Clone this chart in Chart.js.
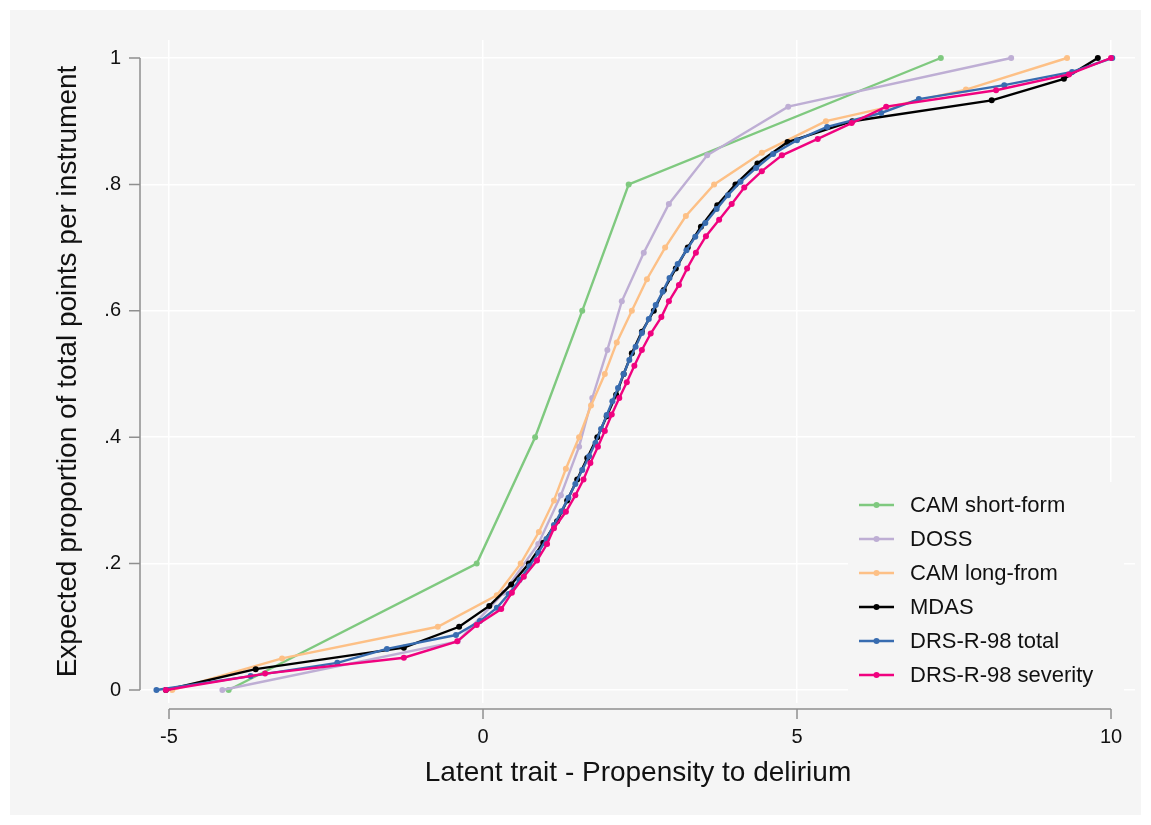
<!DOCTYPE html>
<html><head><meta charset="utf-8">
<script src="https://cdn.jsdelivr.net/npm/chart.js@4.4.1/dist/chart.umd.min.js"></script>
<style>html,body{margin:0;padding:0;background:#fff;} canvas{display:block;}</style>
</head><body>
<canvas id="c" width="1151" height="825"></canvas>
<script>
// ---- data ----
const seriesNames = ['CAM short-form', 'DOSS', 'CAM long-from', 'MDAS', 'DRS-R-98 total', 'DRS-R-98 severity'];

const camShortX = [-4.05, -0.1, 0.83, 1.58, 2.32, 7.29];
const camShortY = [0, 0.2, 0.4, 0.6, 0.8, 1];

const dossX = [-4.15, -0.4, 0.33, 0.88, 1.24, 1.53, 1.74, 1.98, 2.21, 2.56, 2.96, 3.57, 4.86, 8.41];
const dossY = [0, 0.077, 0.154, 0.231, 0.308, 0.385, 0.462, 0.538, 0.615, 0.692, 0.769, 0.846, 0.923, 1];

const camLongX = [-4.95, -3.2, -0.72, 0.22, 0.6, 0.89, 1.13, 1.32, 1.53, 1.72, 1.94, 2.13, 2.37, 2.61, 2.9, 3.23, 3.68, 4.44, 5.46, 7.69, 9.3];
const camLongY = [0, 0.05, 0.1, 0.15, 0.2, 0.25, 0.3, 0.35, 0.4, 0.45, 0.5, 0.55, 0.6, 0.65, 0.7, 0.75, 0.8, 0.85, 0.9, 0.95, 1];

const mdasX = [-5.05, -3.62, -1.26, -0.38, 0.1, 0.45, 0.73, 0.96, 1.18, 1.34, 1.5, 1.66, 1.82, 1.97, 2.12, 2.24, 2.37, 2.53, 2.72, 2.88, 3.07, 3.26, 3.47, 3.73, 4.02, 4.37, 4.85, 5.88, 8.1, 9.25, 9.79];
const mdasY = [0, 0.033, 0.067, 0.1, 0.133, 0.167, 0.2, 0.233, 0.267, 0.3, 0.333, 0.367, 0.4, 0.433, 0.467, 0.5, 0.533, 0.567, 0.6, 0.633, 0.667, 0.7, 0.733, 0.767, 0.8, 0.833, 0.867, 0.9, 0.933, 0.967, 1];

const drsTotalX = [-5.2, -3.7, -2.32, -1.53, -0.43, -0.05, 0.22, 0.41, 0.58, 0.74, 0.88, 1.01, 1.13, 1.25, 1.36, 1.47, 1.58, 1.69, 1.79, 1.88, 1.97, 2.06, 2.15, 2.24, 2.33, 2.43, 2.53, 2.64, 2.75, 2.86, 2.97, 3.1, 3.24, 3.38, 3.54, 3.72, 3.9, 4.1, 4.35, 4.62, 5.0, 5.48, 6.34, 6.94, 8.3, 9.38, 10.02];
const drsTotalY = [0, 0.022, 0.043, 0.065, 0.087, 0.109, 0.130, 0.152, 0.174, 0.196, 0.217, 0.239, 0.261, 0.283, 0.304, 0.326, 0.348, 0.370, 0.391, 0.413, 0.435, 0.457, 0.478, 0.500, 0.522, 0.543, 0.565, 0.587, 0.609, 0.630, 0.652, 0.674, 0.696, 0.717, 0.739, 0.761, 0.783, 0.804, 0.826, 0.848, 0.870, 0.891, 0.913, 0.935, 0.957, 0.978, 1];

const drsSevX = [-5.05, -3.47, -1.26, -0.41, -0.1, 0.29, 0.46, 0.65, 0.86, 1.02, 1.13, 1.32, 1.47, 1.6, 1.71, 1.83, 1.94, 2.05, 2.17, 2.29, 2.41, 2.53, 2.67, 2.84, 2.96, 3.12, 3.25, 3.39, 3.55, 3.76, 3.96, 4.16, 4.44, 4.76, 5.33, 5.87, 6.42, 8.17, 9.33, 10.0];
const drsSevY = [0, 0.026, 0.051, 0.077, 0.103, 0.128, 0.154, 0.179, 0.205, 0.231, 0.256, 0.282, 0.308, 0.333, 0.359, 0.385, 0.410, 0.436, 0.462, 0.487, 0.513, 0.538, 0.564, 0.590, 0.615, 0.641, 0.667, 0.692, 0.718, 0.744, 0.769, 0.795, 0.821, 0.846, 0.872, 0.897, 0.923, 0.949, 0.974, 1];

const xTickValues = [-5, 0, 5, 10];
const xTickLabels = ['-5', '0', '5', '10'];
const yTickValues = [0, 0.2, 0.4, 0.6, 0.8, 1];
const yTickLabels = ['0', '.2', '.4', '.6', '.8', '1'];

const xTitle = 'Latent trait - Propensity to delirium';
const yTitle = 'Expected proportion of total points per instrument';

// ---- styles ----
const colors = ['#7fc97f', '#beaed4', '#fdc086', '#000000', '#386cb0', '#f0027f'];
const FONT = '"Liberation Sans", Arial, Helvetica, sans-serif';

function pts(xs, ys) { return xs.map((x, i) => ({x: x, y: ys[i]})); }
const allX = [camShortX, dossX, camLongX, mdasX, drsTotalX, drsSevX];
const allY = [camShortY, dossY, camLongY, mdasY, drsTotalY, drsSevY];

const datasets = seriesNames.map((name, i) => ({
  label: name,
  data: pts(allX[i], allY[i]),
  showLine: true,
  borderColor: colors[i],
  backgroundColor: colors[i],
  borderWidth: 2.4,
  pointRadius: 3,
  pointBorderWidth: 0,
  pointHoverRadius: 3,
  tension: 0,
  order: 6 - i
}));

const bgPlugin = {
  id: 'bg',
  beforeDraw(chart) {
    const ctx = chart.ctx;
    ctx.save();
    ctx.fillStyle = '#ffffff';
    ctx.fillRect(0, 0, chart.width, chart.height);
    ctx.fillStyle = '#f5f5f5';
    ctx.fillRect(10, 10, chart.width - 20, chart.height - 20);
    ctx.restore();
  }
};

const axisPlugin = {
  id: 'axisLines',
  beforeDatasetsDraw(chart) {
    const ctx = chart.ctx;
    const xs = chart.scales.x, ys = chart.scales.y;
    ctx.save();
    ctx.strokeStyle = '#8f8f8f';
    ctx.lineWidth = 1.5;
    const ax = 140;
    ctx.beginPath();
    ctx.moveTo(ax, ys.getPixelForValue(yTickValues[0]));
    ctx.lineTo(ax, ys.getPixelForValue(yTickValues[yTickValues.length - 1]));
    yTickValues.forEach(v => {
      const p = ys.getPixelForValue(v);
      ctx.moveTo(ax, p); ctx.lineTo(ax - 11, p);
    });
    const ay = 709;
    ctx.moveTo(xs.getPixelForValue(xTickValues[0]), ay);
    ctx.lineTo(xs.getPixelForValue(xTickValues[xTickValues.length - 1]), ay);
    xTickValues.forEach(v => {
      const p = xs.getPixelForValue(v);
      ctx.moveTo(p, ay); ctx.lineTo(p, ay + 10);
    });
    ctx.stroke();
    ctx.restore();
  }
};

const legendPlugin = {
  id: 'customLegend',
  afterDatasetsDraw(chart) {
    const ctx = chart.ctx;
    ctx.save();
    ctx.fillStyle = '#f5f5f5';
    ctx.fillRect(848, 482, 276, 222);
    const rowY0 = 505, rowH = 34;
    chart.data.datasets.forEach((ds, i) => {
      const y = rowY0 + i * rowH;
      ctx.strokeStyle = ds.borderColor;
      ctx.lineWidth = 2.4;
      ctx.beginPath(); ctx.moveTo(859, y); ctx.lineTo(894, y); ctx.stroke();
      ctx.fillStyle = ds.borderColor;
      ctx.beginPath(); ctx.arc(876.5, y, 3, 0, Math.PI * 2); ctx.fill();
      ctx.fillStyle = '#111111';
      ctx.font = '22px ' + FONT;
      ctx.textBaseline = 'middle';
      ctx.textAlign = 'left';
      ctx.fillText(ds.label, 910, y + 1);
    });
    ctx.restore();
  }
};

new Chart(document.getElementById('c'), {
  type: 'scatter',
  data: { datasets: datasets },
  options: {
    responsive: false,
    animation: false,
    events: [],
    layout: { padding: { left: 10, top: 40, right: 16, bottom: 0 } },
    plugins: { legend: { display: false }, tooltip: { enabled: false } },
    scales: {
      x: {
        type: 'linear',
        min: -5.4459, max: 10.382,
        afterBuildTicks: s => { s.ticks = xTickValues.map(v => ({value: v})); },
        afterFit: s => { s.height = 122; },
        ticks: {
          callback: (v, i) => xTickLabels[i],
          autoSkip: false, maxRotation: 0, minRotation: 0,
          padding: 22, color: '#111111',
          font: { family: FONT, size: 20 }
        },
        grid: { color: '#ffffff', lineWidth: 1.5, drawTicks: false },
        border: { display: false },
        title: {
          display: true, text: xTitle, color: '#111111',
          font: { family: FONT, size: 28 },
          padding: { top: 0, bottom: 35 }
        }
      },
      y: {
        type: 'linear',
        min: -0.02057, max: 1.02848,
        afterBuildTicks: s => { s.ticks = yTickValues.map(v => ({value: v})); },
        afterFit: s => { s.width = 131; },
        ticks: {
          callback: (v, i) => yTickLabels[i],
          autoSkip: false,
          padding: 20, color: '#111111',
          font: { family: FONT, size: 20 }
        },
        grid: { color: '#ffffff', lineWidth: 1.5, drawTicks: false },
        border: { display: false },
        title: {
          display: true, text: yTitle, color: '#111111',
          font: { family: FONT, size: 28 },
          padding: { top: 41, bottom: 0 }
        }
      }
    }
  },
  plugins: [bgPlugin, axisPlugin, legendPlugin]
});
</script>
</body></html>
